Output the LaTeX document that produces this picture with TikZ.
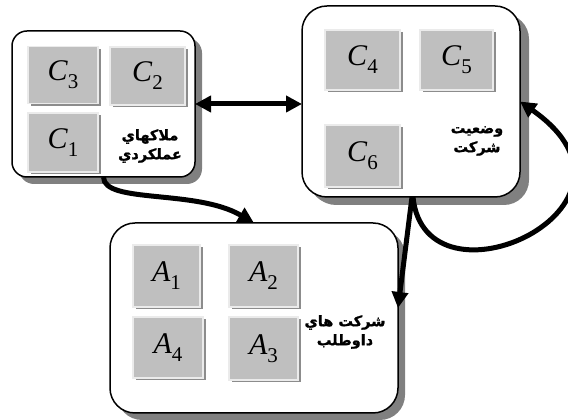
\documentclass[tikz,border=0pt]{standalone}
\usepackage{fontspec}
\newfontfamily\arabicfont[Script=Arabic, BoldFeatures={FakeBold=1.2}]{DejaVu Sans}
\newfontfamily\timesfont{Liberation Serif}
\TeXXeTstate=1
\usetikzlibrary{arrows.meta,shadows}
\newcommand{\etiq}[2]{{\itshape #1}\raisebox{-8pt}{\fontsize{21}{21}\selectfont #2}}

\begin{document}
\begin{tikzpicture}
		\tikzstyle{every node}=[inner sep=0pt, outer sep=0pt]
		\tikzstyle{caja} = [draw, rounded corners=15pt, line width=1.5pt, fill=white, drop shadow={shadow xshift=7pt, shadow yshift=-7pt, fill=black!50, opacity=1}]
		\tikzstyle{cuadro} = [draw=black!8, line width=1.5pt, fill=black!25, font=\timesfont\fontsize{30}{34}\selectfont, drop shadow={shadow xshift=2.5pt, shadow yshift=-2.5pt, fill=black!45, opacity=1}]
		\tikzstyle{texto} = [align=center, font=\arabicfont\bfseries\fontsize{14.5}{19}\selectfont]
		\tikzstyle{flecha} = [-{Triangle[length=16pt,width=16pt]}, line width=5pt]
		\tikzstyle{doble} = [{Triangle[length=16pt,width=16pt]}-{Triangle[length=16pt,width=16pt]}, line width=5pt]
		
		\useasboundingbox (0,0) rectangle (568pt,420pt);
		
		\draw (103.5pt,316pt) node[caja, minimum width=183pt, minimum height=146pt](oper){};
		\draw (63pt,345pt) node[cuadro, minimum width=70pt, minimum height=57pt](c3){\etiq{C}{3}};
		\draw (147.5pt,344pt) node[cuadro, minimum width=75pt, minimum height=58pt](c2){\etiq{C}{2}};
		\draw (63pt,277.5pt) node[cuadro, minimum width=70pt, minimum height=59pt](c1){\etiq{C}{1}};
		\draw (150pt,274pt) node[texto](tOper){\beginR ملاكهاي\endR\\\beginR عملكردي\endR};
		
		\draw (411pt,318.5pt) node[caja, rounded corners=25pt, minimum width=218pt, minimum height=191pt, drop shadow={shadow xshift=9pt, shadow yshift=-8pt, fill=black!50, opacity=1}](estado){};
		\draw (362.5pt,360pt) node[cuadro, minimum width=75pt, minimum height=60pt](c4){\etiq{C}{4}};
		\draw (456.5pt,360pt) node[cuadro, minimum width=73pt, minimum height=60pt](c5){\etiq{C}{5}};
		\draw (362.5pt,264pt) node[cuadro, minimum width=75pt, minimum height=62pt](c6){\etiq{C}{6}};
		\draw (477pt,279pt) node[texto](tEstado){\beginR وضعيت\endR\\\beginR شركت\endR};
		
		\draw (254pt,102pt) node[caja, rounded corners=25pt, minimum width=288pt, minimum height=190pt](aspir){};
		\draw (166.5pt,144pt) node[cuadro, minimum width=67pt, minimum height=62pt](a1){\etiq{A}{1}};
		\draw (263.5pt,144pt) node[cuadro, minimum width=69pt, minimum height=62pt](a2){\etiq{A}{2}};
		\draw (168pt,72.5pt) node[cuadro, minimum width=70pt, minimum height=61pt](a4){\etiq{A}{4}};
		\draw (263.5pt,71.5pt) node[cuadro, minimum width=69pt, minimum height=63pt](a3){\etiq{A}{3}};
		\draw (345pt,88pt) node[texto](tAspir){\beginR شركت هاي\endR\\\beginR داوطلب\endR};
		
		\draw [doble] (oper.east) -- (oper.east -| estado.west);
		\draw [flecha] (oper.south) .. controls +(0pt,-27pt) and +(-58pt,34pt) .. (aspir.north);
		\draw [flecha] ([xshift=1pt]estado.south) -- ([yshift=10pt]aspir.east);
		\draw [flecha] ([xshift=2pt]estado.south) .. controls +(12pt,-121pt) and +(150pt,-105pt) .. (estado.east);
	\end{tikzpicture}
\end{document}
